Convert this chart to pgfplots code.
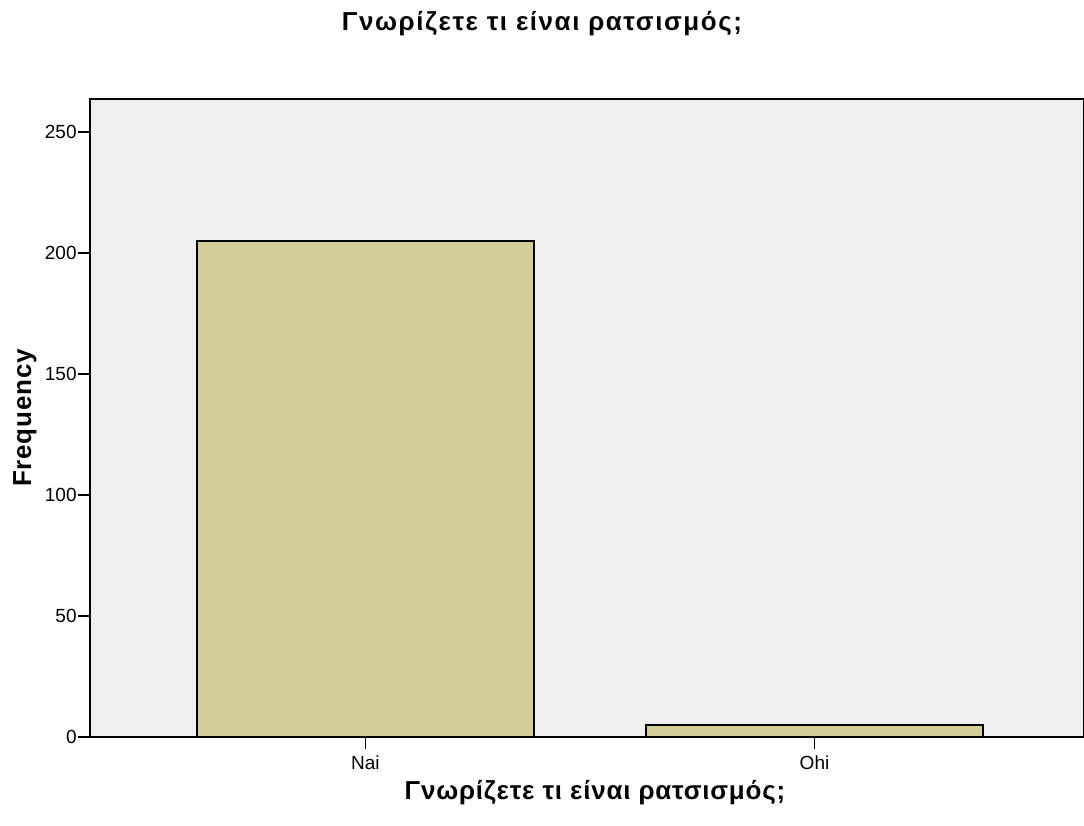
\documentclass[border=0pt]{standalone}
\usepackage{fontspec}
\setmainfont{Liberation Sans}
\newfontfamily\wideA[LetterSpace=6]{Liberation Sans}
\newfontfamily\wideB[LetterSpace=3]{Liberation Sans}
\usepackage{pgfplots}
\pgfplotsset{compat=1.18}

\definecolor{barfill}{RGB}{211,206,153}
\definecolor{plotbg}{RGB}{240,240,240}

\begin{document}
\begin{tikzpicture}
% 1 px of the reference = 0.5pt
\useasboundingbox (-45pt,-44.5pt) rectangle (497pt,368.5pt);
\begin{axis}[
    at={(0pt,0pt)}, anchor=south west,
    scale only axis,
    width=497pt, height=319pt,
    xmin=-0.613, xmax=1.6,
    ymin=0, ymax=263.6,
    xtick={0,1}, xticklabels={Nai,Ohi},
    ytick={0,50,100,150,200,250},
    tick align=outside,
    tick pos=left,
    major tick length=6pt,
    tick style={black, line width=0.8pt},
    axis line style={black, line width=0.9pt},
    axis background/.style={fill=plotbg},
    ticklabel style={font=\fontsize{9.5}{11}\selectfont},
    yticklabel style={inner xsep=0.5pt},
    xticklabel style={inner ysep=3pt},
    /pgf/number format/assume math mode=true,
    xlabel={\wideB\bfseries Γνωρίζετε τι είναι ρατσισμός;},
    ylabel={\wideB\bfseries Frequency},
    label style={font=\fontsize{13}{15}\selectfont},
    xlabel style={at={(axis description cs:0.5,0)}, anchor=center, xshift=4pt, yshift=-28pt},
    ylabel style={at={(axis description cs:0,0.5)}, anchor=center, yshift=32.5pt},
]
\addplot[ybar, bar width=0.75, fill=barfill, draw=black, line width=0.9pt]
  coordinates {(0,205) (1,5)};
\end{axis}
\node[font=\wideA\bfseries\fontsize{13}{15}\selectfont] at (226pt,356.5pt) {Γνωρίζετε τι είναι ρατσισμός;};
\end{tikzpicture}
\end{document}
